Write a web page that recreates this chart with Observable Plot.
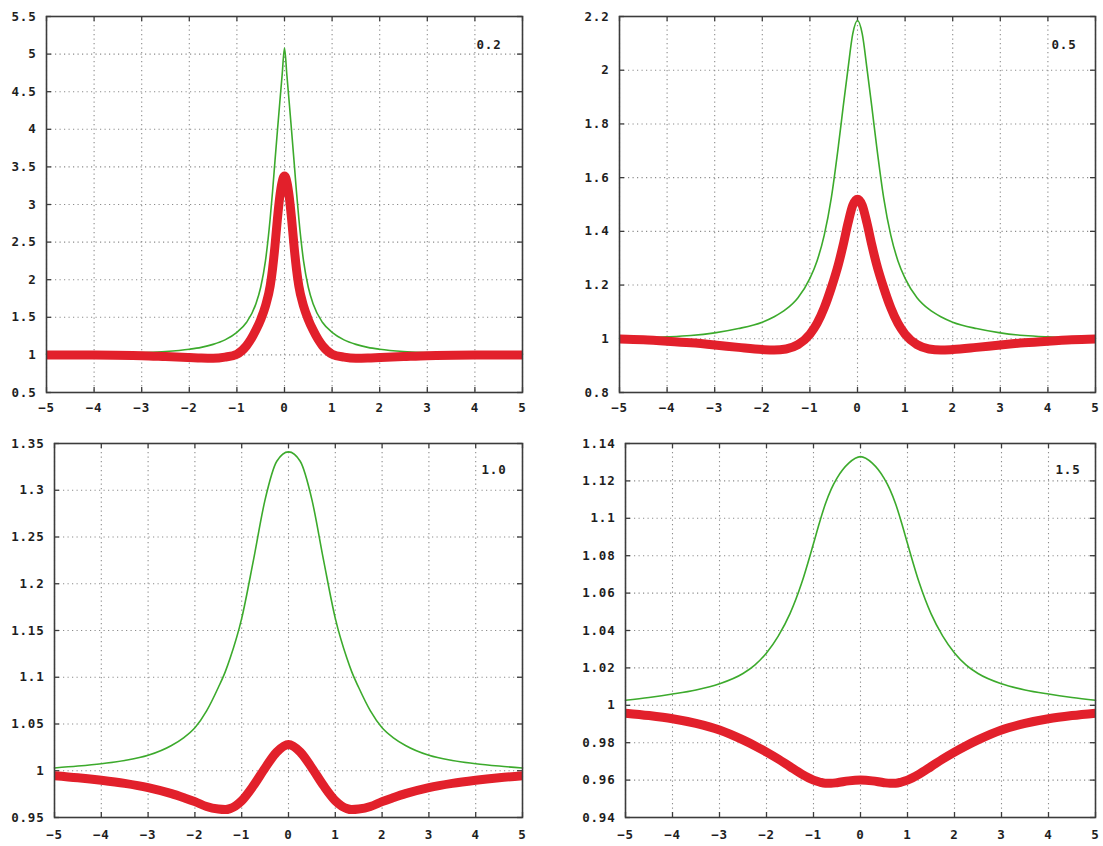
<!DOCTYPE html>
<html>
<head>
<meta charset="utf-8">
<script src="https://cdn.jsdelivr.net/npm/d3@7"></script>
<script src="https://cdn.jsdelivr.net/npm/@observablehq/plot@0.6"></script>
<style>
  html, body { margin: 0; background: #fff; }
  #chart { position: relative; width: 1103px; height: 846px; overflow: hidden; background: #fff; }
  .panel { position: absolute; }
</style>
</head>
<body>
<div id="chart"></div>
<script>
// Shared x ticks for all four panels
const xTicks = [-5, -4, -3, -2, -1, 0, 1, 2, 3, 4, 5];

// Panel "0.2"
const yTicks02 = [0.5, 1, 1.5, 2, 2.5, 3, 3.5, 4, 4.5, 5, 5.5];
const x02 = [-5, -4, -3, -2.5, -2, -1.75, -1.5, -1.25, -1, -0.8, -0.6, -0.5, -0.4, -0.3, -0.25, -0.2, -0.15, -0.1, -0.05, 0,
             0.05, 0.1, 0.15, 0.2, 0.25, 0.3, 0.4, 0.5, 0.6, 0.8, 1, 1.25, 1.5, 1.75, 2, 2.5, 3, 4, 5];
const green02 = [1.01, 1.015, 1.03, 1.045, 1.075, 1.1, 1.14, 1.2, 1.3, 1.43, 1.68, 1.9, 2.25, 2.82, 3.18, 3.58, 3.97, 4.35, 4.72, 5.08,
                 4.72, 4.35, 3.97, 3.58, 3.18, 2.82, 2.25, 1.9, 1.68, 1.43, 1.3, 1.2, 1.14, 1.1, 1.075, 1.045, 1.03, 1.015, 1.01];
const red02 = [1.0, 0.998, 0.99, 0.978, 0.965, 0.958, 0.955, 0.97, 1.01, 1.12, 1.33, 1.47, 1.65, 1.92, 2.15, 2.45, 2.8, 3.1, 3.3, 3.38,
               3.3, 3.1, 2.8, 2.45, 2.15, 1.92, 1.65, 1.47, 1.33, 1.12, 1.01, 0.97, 0.955, 0.958, 0.965, 0.978, 0.99, 0.998, 1.0];

// Panel "0.5"
const yTicks05 = [0.8, 1, 1.2, 1.4, 1.6, 1.8, 2, 2.2];
const x05 = [-5, -4.5, -4, -3.5, -3, -2.5, -2, -1.75, -1.5, -1.25, -1, -0.85, -0.7, -0.55, -0.4, -0.3, -0.2, -0.1, 0,
             0.1, 0.2, 0.3, 0.4, 0.55, 0.7, 0.85, 1, 1.25, 1.5, 1.75, 2, 2.5, 3, 3.5, 4, 4.5, 5];
const green05 = [1.002, 1.004, 1.007, 1.012, 1.022, 1.038, 1.062, 1.082, 1.11, 1.153, 1.225, 1.29, 1.385, 1.525, 1.72, 1.865, 2.005, 2.135, 2.185,
                 2.135, 2.005, 1.865, 1.72, 1.525, 1.385, 1.29, 1.225, 1.153, 1.11, 1.082, 1.062, 1.038, 1.022, 1.012, 1.007, 1.004, 1.002];
const red05 = [0.999, 0.996, 0.991, 0.985, 0.977, 0.968, 0.96, 0.958, 0.962, 0.978, 1.017, 1.057, 1.115, 1.19, 1.278, 1.35, 1.43, 1.497, 1.52,
               1.497, 1.43, 1.35, 1.278, 1.19, 1.115, 1.057, 1.017, 0.978, 0.962, 0.958, 0.96, 0.968, 0.977, 0.985, 0.991, 0.996, 0.999];

// Panel "1.0"
const yTicks10 = [0.95, 1, 1.05, 1.1, 1.15, 1.2, 1.25, 1.3, 1.35];
const x10 = [-5, -4.5, -4, -3.5, -3, -2.5, -2.25, -2, -1.75, -1.5, -1.35, -1.25, -1, -0.75, -0.5, -0.25, 0,
             0.25, 0.5, 0.75, 1, 1.25, 1.35, 1.5, 1.75, 2, 2.25, 2.5, 3, 3.5, 4, 4.5, 5];
const green10 = [1.003, 1.005, 1.0075, 1.011, 1.0165, 1.027, 1.035, 1.046, 1.064, 1.089, 1.106, 1.12, 1.163, 1.225, 1.29, 1.331, 1.341,
                 1.331, 1.29, 1.225, 1.163, 1.12, 1.106, 1.089, 1.064, 1.046, 1.035, 1.027, 1.0165, 1.011, 1.0075, 1.005, 1.003];
const red10 = [0.9947, 0.9925, 0.9898, 0.9865, 0.982, 0.9755, 0.9714, 0.967, 0.9617, 0.959, 0.9585, 0.9595, 0.968, 0.984, 1.003, 1.02, 1.028,
               1.02, 1.003, 0.984, 0.968, 0.9595, 0.9585, 0.959, 0.9617, 0.967, 0.9714, 0.9755, 0.982, 0.9865, 0.9898, 0.9925, 0.9947];

// Panel "1.5"
const yTicks15 = [0.94, 0.96, 0.98, 1, 1.02, 1.04, 1.06, 1.08, 1.1, 1.12, 1.14];
const x15 = [-5, -4.5, -4, -3.5, -3, -2.5, -2.25, -2, -1.75, -1.5, -1.25, -1, -0.875, -0.75, -0.625, -0.5, -0.25, 0,
             0.25, 0.5, 0.625, 0.75, 0.875, 1, 1.25, 1.5, 1.75, 2, 2.25, 2.5, 3, 3.5, 4, 4.5, 5];
const green15 = [1.0027, 1.0042, 1.006, 1.0082, 1.0115, 1.017, 1.0215, 1.028, 1.037, 1.049, 1.0655, 1.0865, 1.0975, 1.1075, 1.1155, 1.1215, 1.1295, 1.133,
                 1.1295, 1.1215, 1.1155, 1.1075, 1.0975, 1.0865, 1.0655, 1.049, 1.037, 1.028, 1.0215, 1.017, 1.0115, 1.0082, 1.006, 1.0042, 1.0027];
const red15 = [0.9958, 0.9945, 0.9928, 0.9903, 0.9868, 0.9815, 0.9784, 0.975, 0.9713, 0.9672, 0.9632, 0.96, 0.959, 0.9583, 0.9583, 0.9586, 0.9596, 0.96,
               0.9596, 0.9586, 0.9583, 0.9583, 0.959, 0.96, 0.9632, 0.9672, 0.9713, 0.975, 0.9784, 0.9815, 0.9868, 0.9903, 0.9928, 0.9945, 0.9958];

const labels = ["0.2", "0.5", "1.0", "1.5"];

const GREEN = "#3caa2c";
const RED = "#e2202b";
const INK = "#1e1e1e";
const FRAME = "#3c3c3c";
const GRID = "#8c8c8c";

function panel(cfg) {
  const {x, green, red, yTicks, label, layout} = cfg;
  const {width, height, marginLeft, marginRight, marginTop, marginBottom, labelDx, labelDy, xPad} = layout;
  const plotW = width - marginLeft - marginRight;
  const plotH = height - marginTop - marginBottom;
  const tickLen = 5;
  return Plot.plot({
    width, height, marginLeft, marginRight, marginTop, marginBottom,
    style: {
      fontFamily: "'DejaVu Sans Mono', monospace",
      fontWeight: "bold",
      fontSize: "12.5px",
      letterSpacing: "0.8px",
      color: INK,
      background: "#fff"
    },
    x: {domain: [-5, 5], label: null},
    y: {domain: [yTicks[0], yTicks[yTicks.length - 1]], label: null},
    marks: [
      // dotted grid
      Plot.gridX(xTicks, {stroke: GRID, strokeOpacity: 1, strokeWidth: 1.1, strokeDasharray: "1.2,3.3"}),
      Plot.gridY(yTicks, {stroke: GRID, strokeOpacity: 1, strokeWidth: 1.1, strokeDasharray: "1.2,3.3"}),
      // inward tick marks on all four sides
      Plot.tickX(xTicks, {x: d => d, insetTop: plotH - tickLen, stroke: FRAME, strokeWidth: 1.3}),
      Plot.tickX(xTicks, {x: d => d, insetBottom: plotH - tickLen, stroke: FRAME, strokeWidth: 1.3}),
      Plot.tickY(yTicks, {y: d => d, insetRight: plotW - tickLen, stroke: FRAME, strokeWidth: 1.3}),
      Plot.tickY(yTicks, {y: d => d, insetLeft: plotW - tickLen, stroke: FRAME, strokeWidth: 1.3}),
      // tick labels
      Plot.axisX(xTicks, {tickSize: 0, tickPadding: xPad, label: null, tickFormat: d => d < 0 ? "\u2212" + (-d) : String(d)}),
      Plot.axisY(yTicks, {tickSize: 0, tickPadding: 10, label: null, tickFormat: d => String(d)}),
      // curves
      Plot.lineY(green, {x, stroke: GREEN, strokeWidth: 1.6, curve: "monotone-x"}),
      Plot.lineY(red, {x, stroke: RED, strokeWidth: 9, strokeLinecap: "butt", curve: "monotone-x"}),
      Plot.frame({stroke: FRAME, strokeWidth: 1.6}),
      // panel tag in the upper right corner
      Plot.text([label], {frameAnchor: "top-right", textAnchor: "end", dx: labelDx, dy: labelDy, fill: INK, fontWeight: "bold", fontSize: 12.5})
    ]
  });
}

const layouts = [
  {left: 0,   top: 0,   width: 560, height: 420, marginLeft: 46, marginRight: 38, marginTop: 16, marginBottom: 28, labelDx: -21, labelDy: 24, xPad: 11},
  {left: 560, top: 0,   width: 543, height: 420, marginLeft: 59, marginRight: 8,  marginTop: 16, marginBottom: 28, labelDx: -19, labelDy: 24, xPad: 11},
  {left: 0,   top: 420, width: 560, height: 426, marginLeft: 54, marginRight: 38, marginTop: 23, marginBottom: 29, labelDx: -16, labelDy: 22, xPad: 13},
  {left: 560, top: 420, width: 543, height: 426, marginLeft: 65, marginRight: 8,  marginTop: 23, marginBottom: 29, labelDx: -15, labelDy: 22, xPad: 13}
];

const panels = [
  {x: x02, green: green02, red: red02, yTicks: yTicks02, label: labels[0]},
  {x: x05, green: green05, red: red05, yTicks: yTicks05, label: labels[1]},
  {x: x10, green: green10, red: red10, yTicks: yTicks10, label: labels[2]},
  {x: x15, green: green15, red: red15, yTicks: yTicks15, label: labels[3]}
];

const root = document.getElementById("chart");
panels.forEach((p, i) => {
  const layout = layouts[i];
  const div = document.createElement("div");
  div.className = "panel";
  div.style.left = layout.left + "px";
  div.style.top = layout.top + "px";
  div.style.width = layout.width + "px";
  div.style.height = layout.height + "px";
  div.appendChild(panel({...p, layout}));
  root.appendChild(div);
});
</script>
</body>
</html>
